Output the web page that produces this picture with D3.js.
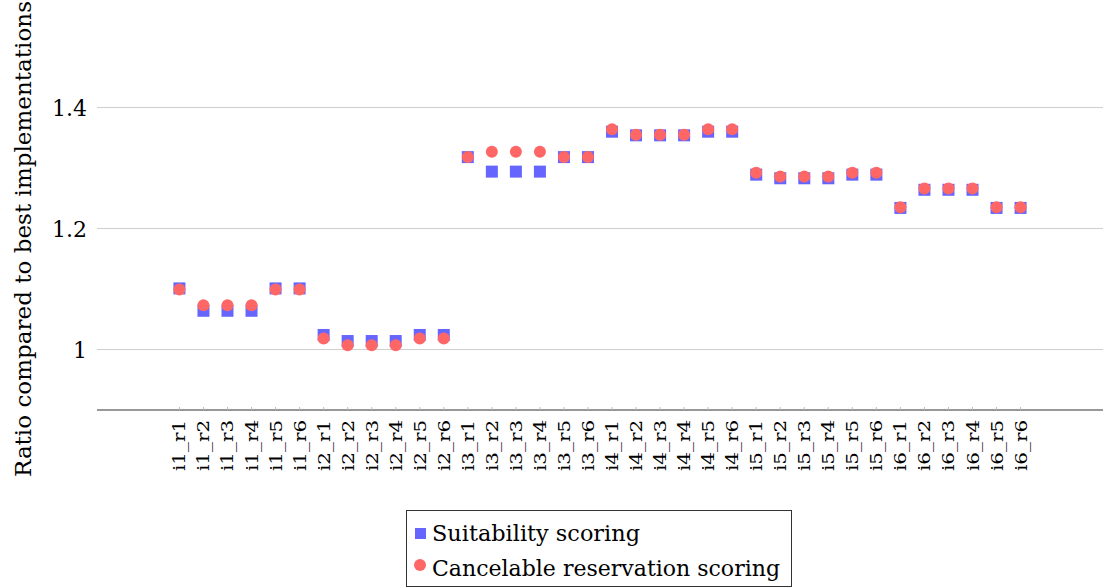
<!DOCTYPE html>
<html>
<head>
<meta charset="utf-8">
<script src="https://cdn.jsdelivr.net/npm/d3@7"></script>
<style>
  body { margin: 0; background: #fff; }
</style>
</head>
<body>
<script>
// categories: instance / run
const categories = [];
['i1','i2','i3','i4','i5','i6'].forEach(i =>
  ['r1','r2','r3','r4','r5','r6'].forEach(r => categories.push(i + '_' + r)));

const suitability = [
  1.101, 1.064, 1.064, 1.064, 1.101, 1.101,
  1.024, 1.014, 1.014, 1.014, 1.024, 1.024,
  1.318, 1.294, 1.294, 1.294, 1.318, 1.318,
  1.360, 1.354, 1.354, 1.354, 1.360, 1.360,
  1.289, 1.283, 1.283, 1.283, 1.289, 1.289,
  1.234, 1.264, 1.264, 1.264, 1.234, 1.234
];
const cancelable = [
  1.099, 1.073, 1.073, 1.073, 1.099, 1.099,
  1.018, 1.007, 1.007, 1.007, 1.018, 1.018,
  1.318, 1.327, 1.327, 1.327, 1.318, 1.318,
  1.364, 1.355, 1.355, 1.355, 1.364, 1.364,
  1.292, 1.286, 1.286, 1.286, 1.292, 1.292,
  1.235, 1.266, 1.266, 1.266, 1.235, 1.235
];
const yTicks = [1, 1.2, 1.4];
const seriesNames = ['Suitability scoring', 'Cancelable reservation scoring'];

const width = 1103, height = 588;
const mLeft = 97, mRight = 1103, mTop = 47, mBottom = 410;
const serif = 'DejaVu Serif';

const svg = d3.select('body').append('svg')
  .attr('width', width).attr('height', height)
  .attr('font-family', serif).attr('fill', '#000');

const x = d3.scalePoint().domain(categories).range([mLeft, mRight]).padding(3.43);
const y = d3.scaleLinear().domain([0.9, 1.5]).range([mBottom, mTop]);

// grid lines
svg.append('g').selectAll('line').data(yTicks).join('line')
  .attr('x1', mLeft).attr('x2', mRight)
  .attr('y1', d => y(d)).attr('y2', d => y(d))
  .attr('stroke', '#cfcfcf').attr('stroke-width', 1);

// y tick labels
svg.append('g').selectAll('text').data(yTicks).join('text')
  .attr('x', mLeft - 10).attr('y', d => y(d) + 8)
  .attr('text-anchor', 'end')
  .attr('font-size', 22)
  .text(d => d3.format('~g')(d));

// x axis line
svg.append('line')
  .attr('x1', mLeft).attr('x2', mRight).attr('y1', mBottom).attr('y2', mBottom)
  .attr('stroke', '#333').attr('stroke-width', 1.2);

// small ticks
svg.append('g').selectAll('line').data(categories).join('line')
  .attr('x1', d => x(d)).attr('x2', d => x(d))
  .attr('y1', mBottom).attr('y2', mBottom - 3)
  .attr('stroke', '#bbb');

// x tick labels, rotated
svg.append('g').selectAll('text').data(categories).join('text')
  .attr('transform', d => `translate(${x(d) + 6},${mBottom + 10}) rotate(-90)`)
  .attr('text-anchor', 'end')
  .attr('textLength', 51).attr('lengthAdjust', 'spacingAndGlyphs')
  .attr('font-size', 16)
  .text(d => d);

// y axis title
svg.append('text')
  .attr('transform', `translate(31,239) rotate(-90)`)
  .attr('text-anchor', 'middle')
  .attr('textLength', 476).attr('lengthAdjust', 'spacingAndGlyphs')
  .attr('font-size', 22)
  .text('Ratio compared to best implementations');

// series
const blue = '#6666ff', red = '#ff6666';
const sq = 12;
svg.append('g').selectAll('rect').data(suitability).join('rect')
  .attr('x', (d, i) => x(categories[i]) - sq / 2)
  .attr('y', d => y(d) - sq / 2)
  .attr('width', sq).attr('height', sq)
  .attr('fill', blue);

svg.append('g').selectAll('circle').data(cancelable).join('circle')
  .attr('cx', (d, i) => x(categories[i]))
  .attr('cy', d => y(d))
  .attr('r', 6)
  .attr('fill', red);

// legend
const lg = svg.append('g').attr('transform', 'translate(406,510)');
lg.append('rect').attr('x', 0.5).attr('y', 0.5).attr('width', 385).attr('height', 76)
  .attr('fill', '#fff').attr('stroke', '#333');
lg.append('rect').attr('x', 9).attr('y', 18).attr('width', 11).attr('height', 11).attr('fill', blue);
lg.append('circle').attr('cx', 14).attr('cy', 55).attr('r', 6).attr('fill', red);
const legendLen = [208, 348];
lg.selectAll('text.lab').data(seriesNames).join('text').attr('class', 'lab')
  .attr('x', 26).attr('y', (d, i) => 31 + i * 35)
  .attr('textLength', (d, i) => legendLen[i]).attr('lengthAdjust', 'spacingAndGlyphs')
  .attr('font-size', 22)
  .text(d => d);
</script>
</body>
</html>
